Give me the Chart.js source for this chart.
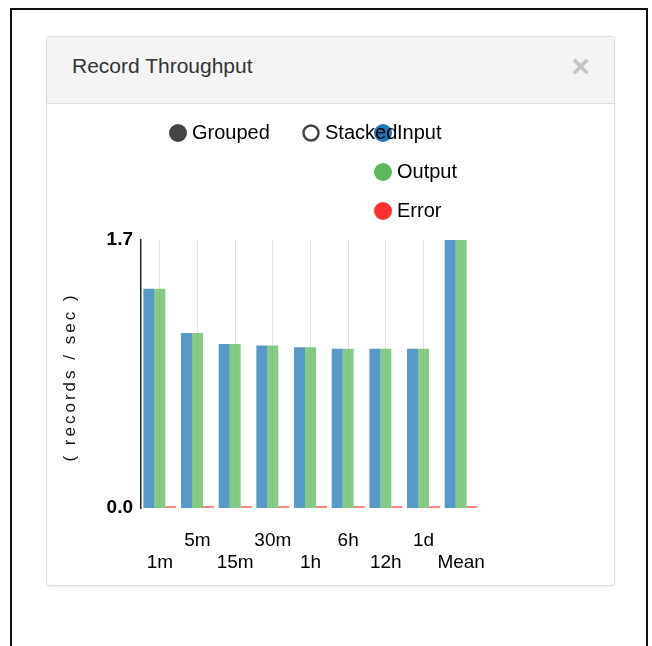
<!DOCTYPE html>
<html lang="en">
<head>
    <meta charset="UTF-8">
    <title>Record Throughput</title>
    <script src="https://cdn.jsdelivr.net/npm/chart.js"></script>
    <style>
        body { margin: 0; background: #fff; font-family: "Liberation Sans", Arial, sans-serif; }
        #frame { position: absolute; left: 10px; top: 8px; width: 634px; height: 700px; border: 2px solid #111; border-bottom: none; }
        #panel { position: absolute; left: 46px; top: 36px; width: 567px; height: 548px; border: 1px solid #ddd; border-radius: 4px; box-shadow: 0 1px 2px rgba(0,0,0,0.08); background: #fff; overflow: hidden; }
        #panel .heading { height: 66px; background: #f4f4f4; border-bottom: 1px solid #ddd; position: relative; }
        #panel .heading h3 { margin: 0; position: absolute; left: 25px; top: 17px; font-size: 21px; font-weight: normal; color: #333; }
        #panel .heading .close { position: absolute; right: 24px; top: 11px; font-size: 32px; font-weight: bold; color: #c4c4c4; }
        #chartBox { position: absolute; left: 0; top: 67px; }
    </style>
</head>
<body>
<div id="frame"></div>
<div id="panel">
    <div class="heading">
        <h3>Record Throughput</h3>
        <span class="close">&times;</span>
    </div>
    <div id="chartBox"><canvas id="throughputChart" width="567" height="480"></canvas></div>
</div>

<script>
    // values (records / sec)
    const periods = ['1m', '5m', '15m', '30m', '1h', '6h', '12h', '1d', 'Mean'];
    const inputRate = [1.39, 1.11, 1.04, 1.03, 1.02, 1.01, 1.01, 1.01, 1.70];
    const outputRate = [1.39, 1.11, 1.04, 1.03, 1.02, 1.01, 1.01, 1.01, 1.70];
    const errorRate = [0, 0, 0, 0, 0, 0, 0, 0, 0];
    const yTicks = [0, 1.7];
    const modes = ['Grouped', 'Stacked'];

    const FONT = '"Liberation Sans", Arial, sans-serif';
    Chart.defaults.font.family = FONT;
    Chart.defaults.color = '#000';

    // nvd3 style legend: mode switch + series column
    const legendPlugin = {
        id: 'nvLegend',
        afterDraw(chart) {
            const ctx = chart.ctx;
            ctx.save();
            ctx.font = '20px ' + FONT;
            ctx.textBaseline = 'middle';
            chart.data.datasets.forEach((ds, i) => {
                const y = 29 + i * 39;
                ctx.beginPath();
                ctx.arc(336, y, 9, 0, Math.PI * 2);
                ctx.fillStyle = ds.legendColor;
                ctx.fill();
                ctx.fillStyle = '#000';
                ctx.fillText(ds.label, 350, y);
            });
            const modeX = [131, 264];
            modes.forEach((m, i) => {
                ctx.beginPath();
                ctx.arc(modeX[i], 29, i === 0 ? 9 : 7.5, 0, Math.PI * 2);
                if (i === 0) {
                    ctx.fillStyle = '#444';
                    ctx.fill();
                } else {
                    ctx.lineWidth = 2.5;
                    ctx.strokeStyle = '#444';
                    ctx.stroke();
                }
                ctx.fillStyle = '#000';
                ctx.fillText(m, modeX[i] + 14, 29);
            });

            // y axis title, letter spaced
            ctx.translate(23, 273);
            ctx.rotate(-Math.PI / 2);
            ctx.font = '17px ' + FONT;
            ctx.letterSpacing = '3px';
            ctx.textAlign = 'center';
            ctx.fillStyle = '#111';
            ctx.fillText('( records / sec )', 0, 0);
            ctx.restore();
        }
    };

    new Chart(document.getElementById('throughputChart'), {
        type: 'bar',
        data: {
            labels: periods,
            datasets: [
                { label: 'Input', data: inputRate, backgroundColor: 'rgba(31,119,180,0.75)', legendColor: '#1f77b4' },
                { label: 'Output', data: outputRate, backgroundColor: 'rgba(92,184,92,0.75)', legendColor: '#5cb85c' },
                { label: 'Error', data: errorRate, backgroundColor: 'rgba(255,51,51,0.6)', legendColor: '#ff3333', minBarLength: 2 }
            ]
        },
        options: {
            responsive: false,
            animation: false,
            devicePixelRatio: 1,
            categoryPercentage: 0.875,
            barPercentage: 1,
            layout: { padding: { top: 136, right: 134, left: 0, bottom: 0 } },
            plugins: { legend: { display: false }, tooltip: { enabled: false } },
            scales: {
                x: {
                    grid: { color: '#e5e5e5', offset: false, drawTicks: false },
                    border: { display: false },
                    ticks: {
                        autoSkip: false,
                        maxRotation: 0,
                        padding: 21,
                        font: { size: 19 },
                        callback: (v, i) => i % 2 ? [periods[i], ''] : ['', periods[i]]
                    },
                    afterFit: s => { s.height = 76; }
                },
                y: {
                    min: 0,
                    max: 1.7,
                    grid: { display: false, drawTicks: false },
                    border: { display: true, color: '#222', width: 1.5 },
                    afterBuildTicks: s => { s.ticks = yTicks.map(v => ({ value: v })); },
                    ticks: {
                        padding: 8,
                        font: { size: 19, weight: 'bold' },
                        callback: v => Number(v).toFixed(1)
                    },
                    afterFit: s => { s.width = 94; }
                }
            }
        },
        plugins: [legendPlugin]
    });
</script>
</body>
</html>
